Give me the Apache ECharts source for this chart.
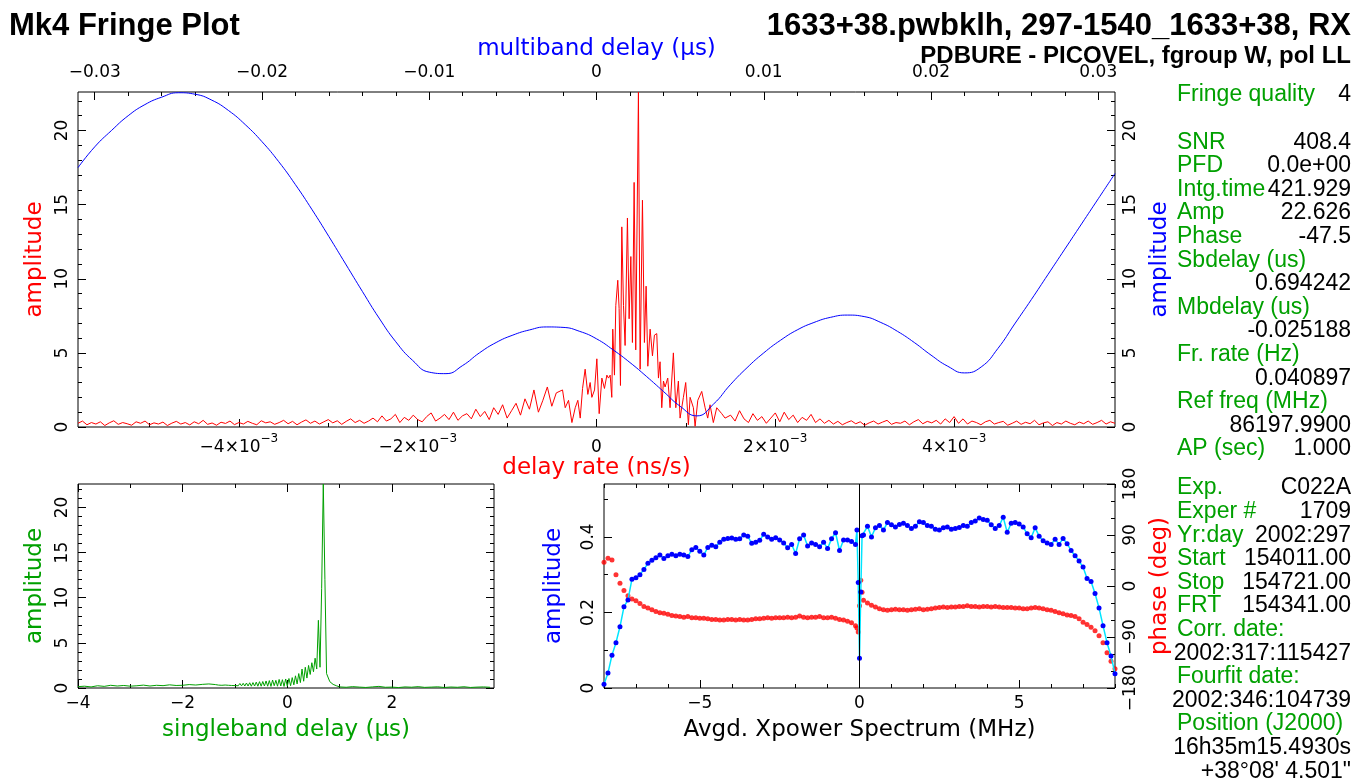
<!DOCTYPE html>
<html><head><meta charset="utf-8">
<script src="https://cdn.jsdelivr.net/npm/echarts@6/dist/echarts.min.js"></script>
<style>html,body{margin:0;padding:0;background:#fff}#c{width:1354px;height:783px}</style>
</head><body><div id="c"></div><script>
// ---- multiband delay (us) vs amplitude, blue curve, -0.031..0.031 step 0.001
var mbdStart = -0.031, mbdStep = 0.001;
var mbdAmp = [17.5,18.9,20.0,21.0,21.75,22.25,22.55,22.45,22.05,21.35,20.4,19.25,17.9,16.35,14.65,12.85,11.0,9.15,7.35,5.75,4.5,3.7,3.6,
  4.15,5.0,5.7,6.2,6.55,6.75,6.72,6.45,5.95,5.2,4.35,3.4,2.4,1.4,0.75,1.55,2.85,4.0,5.0,5.85,6.55,7.05,7.4,7.55,7.45,7.05,6.45,5.7,
  4.85,4.1,3.65,4.05,5.3,6.95,8.6,10.3,12.0,13.7,15.4,17.1];

// ---- delay rate (ns/s) vs amplitude, red curve
var rateLeftStart = -0.0058, rateStep = 0.00005;
var rateLeftAmp = [0.25,0.40,0.15,0.30,0.20,0.35,0.10,0.28,0.42,0.18,0.30,0.22,0.12,0.35,0.25,0.40,0.15,0.28,0.20,0.33,0.10,0.26,0.38,0.20,0.30,0.14,0.35,0.22,0.45,0.18,0.27,0.12,0.32,0.24,0.40,0.16,0.30,
  0.20,0.38,0.25,0.15,0.42,0.28,0.35,0.18,0.30,0.45,0.22,0.38,0.15,0.33,0.48,0.25,0.40,0.20,0.35,0.50,0.28,0.42,0.18,0.38,0.55,0.30,0.45,0.25,0.40,
  0.60,0.35,0.75,0.40,0.55,0.85,0.30,0.65,0.45,0.80,0.50,0.35,0.70,0.95,0.40,0.60,0.85,0.50,1.00,0.45,0.75,
  0.90,0.55,1.20,0.70,1.05,0.50,1.30,0.85,1.50,0.60,1.10,1.60,0.80,1.90,1.20,2.50,1.00,1.80,2.70,1.40,2.30];
// central region, x in units of 1e-4 ns/s
var ratePeakX = [-3.80,-3.50,-3.13,-2.75,-2.38,-2.09,-1.82,-1.56,-1.27,-0.97,-0.71,-0.52,-0.22,0.04,0.30,0.60,0.89,1.16,1.34,1.53,1.71,1.82,
  2.01,2.16,2.38,2.53,2.68,2.83,3.02,3.20,3.46,3.65,3.84,4.02,4.21,4.39,4.69,4.88,5.14,5.36,5.55,5.74,6.00,6.26,6.48,6.74,6.93,
  7.11,7.30,7.49,7.67,7.97,8.23,8.60,8.87,9.16,9.35,9.72,9.98,10.28,10.47,10.84,11.03,11.33,11.77,12.15,12.44,12.70,13.07,13.45,14.01,14.38];
var ratePeakAmp = [2.5,1.3,1.8,0.3,1.3,1.8,0.6,2.6,3.9,2.2,3.0,2.0,2.5,4.6,0.9,3.3,2.6,3.5,3.3,3.5,2.0,6.6,
  3.5,8.2,9.9,8.0,2.8,13.5,8.2,5.5,14.1,7.3,11.5,5.7,16.5,5.2,22.6,3.9,15.3,5.7,9.5,4.1,6.6,4.8,6.2,6.3,3.3,
  4.4,1.3,3.1,2.7,3.3,1.3,5.0,1.3,3.1,0.6,2.0,3.0,0.15,2.0,1.3,0.05,1.8,2.4,1.3,0.6,1.5,0.3,1.3,0.9,0.6];
var rateRightStart = 0.0015;
var rateRightAmp = [0.80,0.40,1.10,0.55,0.30,0.90,0.45,0.70,0.25,0.60,0.95,0.35,1.00,0.50,0.80,0.30,0.65,0.45,0.85,0.30,0.55,
  0.25,0.45,0.20,0.38,0.15,0.30,0.42,0.22,0.35,0.12,0.28,0.40,0.20,0.33,0.45,0.18,0.30,0.25,0.40,0.15,0.35,0.50,0.22,0.38,0.28,0.45,0.20,0.55,0.30,0.70,
  0.25,0.55,0.20,0.40,0.30,0.15,0.35,0.45,0.20,0.30,0.38,0.12,0.25,0.40,0.18,0.32,0.22,0.45,0.15,0.28,0.35,0.10,0.30,0.20,0.40,0.25,0.15,0.33,0.22,0.40,0.18,0.30,0.45,0.20,0.35,0.25];

// ---- singleband delay (us) vs amplitude, green curve
var sbdLeftStart = -4, sbdCoarse = 0.125;
var sbdLeftAmp = [0.15,0.20,0.12,0.25,0.18,0.30,0.22,0.28,0.20,0.25,0.32,0.22,0.30,0.26,0.35,0.28,0.30,0.38,0.33,0.40,0.45,0.38];
var sbdMidStart = -1.34375, sbdFine = 0.03125;
var sbdMidAmp = [0.40,0.32,0.42,0.30,0.45,0.33,0.44,0.30,0.46,0.28,0.45,0.27,0.48,0.25,0.50,0.24,0.52,0.22,0.55,0.22,0.58,0.20,0.60,0.22,0.65,0.20,0.70,0.20,
  0.72,0.22,0.78,0.20,0.82,0.18,0.88,0.25,0.85,0.20,0.95,0.22,0.92,0.18,1.00,0.20,
  1.05,0.25,1.15,0.35,1.35,0.45,1.60,0.60,2.10,0.75,2.30,1.10,2.50,1.50,2.80,1.80,3.30,2.10,7.50,2.30,11.0,22.6,12.0,1.60,1.50,0.70,0.50,0.40,0.30,0.25,0.15];
var sbdRightStart = 1.0;
var sbdRightAmp = [0.12,0.08,0.15,0.10,0.06,0.12,0.18,0.08,0.10,0.05,0.12,0.09,0.15,0.07,0.10,0.13,0.06,0.11,0.08,0.14,0.06,0.10,0.12,0.08];

// ---- averaged cross-power spectrum (MHz)
var xpStep = 0.125;
var xpAmpLeft = [0.010,0.040,0.087,0.120,0.162,0.215,0.233,0.288,0.292,0.300,0.314,0.330,0.338,0.345,0.352,0.343,0.350,0.354,0.350,0.354,0.352,0.348,
  0.366,0.372,0.362,0.352,0.372,0.378,0.374,0.386,0.394,0.396,0.397,0.394,0.395,0.405,0.402,0.383,0.386,0.391,0.407,0.400,0.394,0.398,0.392,0.384,
  0.371,0.380,0.356,0.395,0.405,0.376,0.384,0.380,0.374,0.386,0.369,0.395,0.411,0.364,0.392,0.392,0.388,0.380];
var xpCenterX = [-0.08,-0.04,0,0.04,0.08];
var xpAmpCenter = [0.418,0.279,0.079,0.254,0.403];
var xpAmpRight = [0.405,0.428,0.400,0.424,0.430,0.418,0.438,0.432,0.426,0.433,0.436,0.430,0.422,0.428,0.440,0.438,0.430,0.428,0.420,0.418,0.424,0.426,
  0.420,0.422,0.425,0.430,0.428,0.438,0.442,0.450,0.446,0.444,0.432,0.422,0.430,0.452,0.412,0.436,0.438,0.434,0.426,0.408,0.398,0.424,0.402,0.390,
  0.384,0.380,0.394,0.380,0.396,0.382,0.364,0.350,0.336,0.320,0.290,0.282,0.250,0.212,0.165,0.120,0.085,0.038];
var xpPhaseLeft = [42,49,46,20,5,-8,-17,-23,-26,-31,-36,-39,-42,-45,-47,-48,-50,-52,-53,-54,-55,-54,-56,-56,-57,-57,-58,-59,-59,-60,-60,-59,
  -59,-60,-59,-60,-60,-59,-58,-58,-57,-56,-57,-56,-56,-56,-55,-56,-55,-53,-55,-56,-55,-55,-54,-56,-56,-55,-57,-59,-60,-62,-65,-70];
var xpPhaseCenter = [-74,-81,-35,10,-11];
var xpPhaseRight = [-25,-30,-34,-37,-40,-42,-43,-42,-41,-42,-42,-43,-42,-41,-40,-42,-41,-40,-39,-38,-37,-38,-37,-37,-36,-36,-35,-36,-36,-37,-36,-36,
  -37,-36,-37,-38,-38,-38,-39,-39,-40,-40,-39,-38,-39,-40,-42,-43,-45,-47,-49,-51,-52,-54,-58,-64,-68,-73,-79,-88,-100,-118,-133,-146];

// ---- side panel text
var infoTop = [['Fringe quality','4'],null,['SNR','408.4'],['PFD','0.0e+00'],['Intg.time','421.929'],['Amp','22.626'],['Phase','-47.5'],
  ['Sbdelay (us)',''],['','0.694242'],['Mbdelay (us)',''],['','-0.025188'],['Fr. rate (Hz)',''],['','0.040897'],
  ['Ref freq (MHz)',''],['','86197.9900'],['AP (sec)','1.000']];
var infoBottom = [['Exp.','C022A'],['Exper #','1709'],['Yr:day','2002:297'],['Start','154011.00'],['Stop','154721.00'],['FRT','154341.00'],
  ['Corr. date:',''],['','2002:317:115427'],['Fourfit date:',''],['','2002:346:104739'],['Position (J2000)',''],['','16h35m15.4930s'],['','+38\u00b008\' 4.501"']];

// ---- build series data
function seq(start, step, vals) { var o = []; for (var i = 0; i < vals.length; i++) o.push([start + i * step, vals[i]]); return o; }
var mbdData = seq(mbdStart, mbdStep, mbdAmp);
var rateData = seq(rateLeftStart, rateStep, rateLeftAmp);
for (var i = 0; i < ratePeakX.length; i++) rateData.push([ratePeakX[i] * 1e-4, ratePeakAmp[i]]);
rateData = rateData.concat(seq(rateRightStart, rateStep, rateRightAmp));
var sbdData = seq(sbdLeftStart, sbdCoarse, sbdLeftAmp).concat(seq(sbdMidStart, sbdFine, sbdMidAmp), seq(sbdRightStart, sbdCoarse, sbdRightAmp));
var xpAmpData = seq(-8, xpStep, xpAmpLeft), xpPhData = seq(-8, xpStep, xpPhaseLeft);
for (var i = 0; i < xpCenterX.length; i++) { xpAmpData.push([xpCenterX[i], xpAmpCenter[i]]); xpPhData.push([xpCenterX[i], xpPhaseCenter[i]]); }
xpAmpData = xpAmpData.concat(seq(xpStep, xpStep, xpAmpRight));
xpPhData = xpPhData.concat(seq(xpStep, xpStep, xpPhaseRight));

function range(a, b, s) { var o = []; for (var v = a; v <= b + s * 1e-6; v += s) o.push(+v.toFixed(6)); return o; }

var FONT = 'DejaVu Sans';
var MINUS = '\u2212';
var TICK_FS = 17, NAME_FS = 23;
function fmtNum(v) { return (v < 0 ? MINUS : '') + String(Math.abs(v)); }

function ax(grid, pos, min, max, ticks, len, extra) {
  var a = {
    type: 'value', gridIndex: grid, position: pos, min: min, max: max,
    axisLine: {show: false, onZero: false},
    splitLine: {show: false},
    axisTick: {show: true, inside: true, length: len, customValues: ticks, lineStyle: {color: '#000', width: 1}},
    axisLabel: {show: false}
  };
  if (extra) for (var k in extra) a[k] = extra[k];
  return a;
}
function lab(vals, fmt, margin, rotate, extra) {
  var l = {show: true, customValues: vals, formatter: fmt, margin: margin, rotate: rotate || 0,
    color: '#000', fontFamily: FONT, fontSize: TICK_FS};
  if (extra) for (var k in extra) l[k] = extra[k];
  return l;
}
function nm(text, color, gap) {
  return {name: text, nameLocation: 'middle', nameGap: gap,
    nameTextStyle: {color: color, fontFamily: FONT, fontSize: NAME_FS}};
}
function merge(a, b) { for (var k in b) a[k] = b[k]; return a; }

var rateMin = -0.0058, rateMax = 0.0058, mbMin = -0.031, mbMax = 0.031, ampMax = 22.6;
var rateLabels = [-0.004, -0.002, 0, 0.002, 0.004];
var mbLabels = [-0.03, -0.02, -0.01, 0, 0.01, 0.02, 0.03];

var xAxes = [
  // 0: main bottom, delay rate
  ax(0, 'bottom', rateMin, rateMax, rateLabels, 8, merge({
    axisLabel: lab(rateLabels, function (v) {
      if (Math.abs(v) < 1e-9) return '{b|0}';
      var m = Math.round(v * 1000);
      return '{b|' + (m < 0 ? MINUS : '') + Math.abs(m) + '\u00d710}{s|' + MINUS + '3}';
    }, 6, 0, {rich: {b: {fontFamily: FONT, fontSize: TICK_FS, color: '#000', verticalAlign: 'bottom', lineHeight: 23},
                     s: {fontFamily: FONT, fontSize: 12, color: '#000', verticalAlign: 'top', lineHeight: 12}}})
  }, nm('delay rate (ns/s)', '#ff0000', 29))),
  // 1: main bottom minor ticks
  ax(0, 'bottom', rateMin, rateMax, range(-0.005, 0.005, 0.001), 4),
  // 2: main top, multiband delay
  ax(0, 'top', mbMin, mbMax, mbLabels, 8, merge({
    axisLabel: lab(mbLabels, function (v) {
      return Math.abs(v) < 1e-9 ? '0' : (v < 0 ? MINUS : '') + Math.abs(v).toFixed(2);
    }, 11)
  }, nm('multiband delay (\u03bcs)', '#0000ff', 31))),
  // 3: main top minor
  ax(0, 'top', mbMin, mbMax, range(-0.03, 0.03, 0.002), 4),
  // 4: sbd bottom
  ax(1, 'bottom', -4, 3.95, [-4, -2, 0, 2], 8, merge({
    axisLabel: lab([-4, -2, 0, 2], fmtNum, 7)
  }, nm('singleband delay (\u03bcs)', '#00a000', 31))),
  // 5: sbd bottom minor
  ax(1, 'bottom', -4, 3.95, [-3, -1, 1, 3], 4),
  // 6, 7: sbd top
  ax(1, 'top', -4, 3.95, [-4, -2, 0, 2], 8),
  ax(1, 'top', -4, 3.95, [-3, -1, 1, 3], 4),
  // 8: xpower bottom
  ax(2, 'bottom', -8, 8, [-5, 0, 5], 8, merge({
    axisLabel: lab([-5, 0, 5], fmtNum, 7)
  }, nm('Avgd. Xpower Spectrum (MHz)', '#000', 31))),
  // 9: xpower bottom minor
  ax(2, 'bottom', -8, 8, range(-8, 8, 1), 4),
  // 10, 11: xpower top
  ax(2, 'top', -8, 8, [-5, 0, 5], 8),
  ax(2, 'top', -8, 8, range(-8, 8, 1), 4)
];

var ampTicks = [0, 5, 10, 15, 20];
var yAxes = [
  // 0: main left (rate amplitude)
  ax(0, 'left', 0, ampMax, ampTicks, 8, merge({axisLabel: lab(ampTicks, String, 7, 90)}, nm('amplitude', '#ff0000', 31))),
  ax(0, 'left', 0, ampMax, range(0, 22, 1), 4),
  // 2: main right (multiband amplitude)
  ax(0, 'right', 0, ampMax, ampTicks, 8, merge({axisLabel: lab(ampTicks, String, 7, 90)}, nm('amplitude', '#0000ff', 34))),
  ax(0, 'right', 0, ampMax, range(0, 22, 1), 4),
  // 4: sbd left
  ax(1, 'left', 0, ampMax, ampTicks, 8, merge({axisLabel: lab(ampTicks, String, 7, 90)}, nm('amplitude', '#00a000', 31))),
  ax(1, 'left', 0, ampMax, range(0, 22, 1), 4),
  // 6, 7: sbd right
  ax(1, 'right', 0, ampMax, ampTicks, 8),
  ax(1, 'right', 0, ampMax, range(0, 22, 1), 4),
  // 8: xpower left amplitude
  ax(2, 'left', 0, 0.54, [0, 0.2, 0.4], 8, merge({axisLabel: lab([0, 0.2, 0.4], String, 7, 90)}, nm('amplitude', '#0000ff', 38))),
  ax(2, 'left', 0, 0.54, [0.1, 0.3, 0.5], 4),
  // 10: xpower right phase
  ax(2, 'right', -180, 180, [-180, -90, 0, 90, 180], 8, merge({axisLabel: lab([-180, -90, 0, 90, 180], fmtNum, 7, 90)}, nm('phase (deg)', '#ff0000', 34))),
  ax(2, 'right', -180, 180, range(-180, 180, 30), 4)
];

var gridBase = {show: true, borderColor: '#000', borderWidth: 1, backgroundColor: 'transparent', outerBoundsMode: 'none'};
var grids = [
  merge({left: 78, top: 92, width: 1037, height: 335}, gridBase),
  merge({left: 78, top: 484, width: 416, height: 204}, gridBase),
  merge({left: 604, top: 484, width: 511, height: 204}, gridBase)
];

// side panel / titles as graphic texts
var TXT = '"Liberation Sans", Arial, sans-serif';
var graphics = [
  {type: 'text', x: 9, y: 26, style: {text: 'Mk4 Fringe Plot', font: 'bold 31px ' + TXT, fill: '#000', verticalAlign: 'middle'}},
  {type: 'text', x: 1351, y: 26, style: {text: '1633+38.pwbklh, 297-1540_1633+38, RX', font: 'bold 31px ' + TXT, fill: '#000', align: 'right', verticalAlign: 'middle'}},
  {type: 'text', x: 1351, y: 56, style: {text: 'PDBURE - PICOVEL, fgroup W, pol LL', font: 'bold 24px ' + TXT, fill: '#000', align: 'right', verticalAlign: 'middle'}}
];
function addRows(rows, y0) {
  for (var i = 0; i < rows.length; i++) {
    var r = rows[i]; if (!r) continue;
    var y = y0 + i * 23.6;
    if (r[0]) graphics.push({type: 'text', x: 1177, y: y, style: {text: r[0], font: '23px ' + TXT, fill: '#00a000', verticalAlign: 'middle'}});
    if (r[1]) graphics.push({type: 'text', x: 1351, y: y, style: {text: r[1], font: '23px ' + TXT, fill: '#000', align: 'right', verticalAlign: 'middle'}});
  }
}
addRows(infoTop, 95);
addRows(infoBottom, 488);

var chart = echarts.init(document.getElementById('c'), null, {renderer: 'canvas'});
chart.setOption({
  animation: false,
  backgroundColor: '#fff',
  grid: grids,
  xAxis: xAxes,
  yAxis: yAxes,
  graphic: graphics,
  series: [
    {type: 'line', name: 'rate', xAxisIndex: 0, yAxisIndex: 0, data: rateData, showSymbol: false, symbol: 'none',
      lineStyle: {color: '#ff0000', width: 1}, z: 3},
    {type: 'line', name: 'mbd', xAxisIndex: 2, yAxisIndex: 2, data: mbdData, showSymbol: false, symbol: 'none',
      smooth: 0.5, lineStyle: {color: '#0000ff', width: 1}, z: 4},
    {type: 'line', name: 'sbd', xAxisIndex: 4, yAxisIndex: 4, data: sbdData, showSymbol: false, symbol: 'none',
      lineStyle: {color: '#00a000', width: 1}},
    {type: 'line', name: 'xpamp', xAxisIndex: 8, yAxisIndex: 8, data: xpAmpData, symbol: 'circle', symbolSize: 5, showAllSymbol: true,
      lineStyle: {color: '#00e5ff', width: 1.5}, itemStyle: {color: '#0000ff', borderWidth: 0}, z: 4,
      markLine: {silent: true, symbol: 'none', label: {show: false}, lineStyle: {color: '#000', width: 1, type: 'solid'}, data: [{xAxis: 0}]}},
    {type: 'scatter', name: 'xpphase', xAxisIndex: 8, yAxisIndex: 10, data: xpPhData, symbolSize: 5,
      itemStyle: {color: '#ff0000', borderWidth: 0}, z: 3}
  ]
});
</script></body></html>
